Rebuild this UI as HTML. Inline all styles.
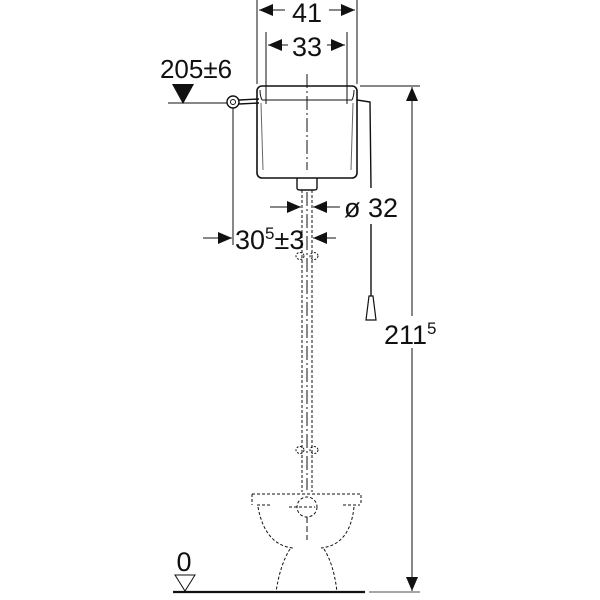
<!DOCTYPE html>
<html><head><style>body{margin:0;background:#fff}svg{display:block}text{font-family:"Liberation Sans",sans-serif;fill:#111}</style></head><body>
<svg width="600" height="600" viewBox="0 0 600 600" xmlns="http://www.w3.org/2000/svg">
<defs>
<marker id="a" viewBox="0 0 10 10" refX="10" refY="5" markerWidth="14" markerHeight="12" orient="auto-start-reverse" markerUnits="userSpaceOnUse" preserveAspectRatio="none"><path d="M0,0L10,5L0,10z" fill="#111"/></marker>
</defs>
<g stroke="#111" fill="none" stroke-width="1">
<line x1="257" y1="0" x2="257" y2="84"/><line x1="357" y1="0" x2="357" y2="84"/>
<line x1="259" y1="10" x2="285" y2="10" marker-start="url(#a)"/>
<line x1="329" y1="10" x2="355" y2="10" marker-end="url(#a)"/>
<line x1="266" y1="32" x2="266" y2="104"/><line x1="347" y1="32" x2="347" y2="104"/>
<line x1="268" y1="45" x2="288" y2="45" marker-start="url(#a)"/>
<line x1="327" y1="45" x2="345" y2="45" marker-end="url(#a)"/>
<rect x="257" y="86" width="100" height="92" rx="5" stroke-width="1.6"/>
<path d="M262 100 L352 100 M262 100 Q260 96 260 90 M352 100 Q354 96 354 90"/>
<path d="M261 103 L263 170 M353 103 L351 170" stroke="#666"/>
<line x1="307" y1="74" x2="307" y2="170" stroke-dasharray="14,3,2,3"/>
<path d="M297 178 L297 188 Q297 190 300 190 L314 190 Q317 190 317 188 L317 178" stroke-width="1.4"/>
<polygon points="172,84 194,84 183,104" fill="#111" stroke="none"/>
<line x1="168" y1="103" x2="227" y2="103"/>
<circle cx="233" cy="102" r="6" stroke-width="1.4"/><circle cx="233" cy="102" r="2.5"/>
<path d="M239 100 L259 99 M239 104 L259 103" stroke-width="1.4"/>
<line x1="233" y1="108" x2="233" y2="245"/>
<path d="M302 190 V492 M312 190 V492" stroke-dasharray="3,2"/>
<line x1="307" y1="192" x2="307" y2="490" stroke-dasharray="14,3,2,3"/>
<ellipse cx="300" cy="256" rx="4" ry="3.5" stroke-dasharray="2,1.5"/><ellipse cx="314" cy="256" rx="4" ry="3.5" stroke-dasharray="2,1.5"/>
<ellipse cx="300" cy="450" rx="4" ry="3.5" stroke-dasharray="2,1.5"/><ellipse cx="314" cy="450" rx="4" ry="3.5" stroke-dasharray="2,1.5"/>
<line x1="270" y1="207" x2="301" y2="207" marker-end="url(#a)"/>
<line x1="340" y1="207" x2="313" y2="207" marker-end="url(#a)"/>
<line x1="203" y1="238" x2="232" y2="238" marker-end="url(#a)"/>
<line x1="336" y1="238" x2="313" y2="238" marker-end="url(#a)"/>
<path d="M357 100 L370 102 L371 188 M371 224 L371 296" stroke-width="1.4"/>
<polygon points="369,296 373,296 376,320 366,320" stroke-width="1.2"/>
<line x1="360" y1="86" x2="420" y2="86"/>
<line x1="412" y1="316" x2="412" y2="87" marker-end="url(#a)"/>
<line x1="412" y1="348" x2="412" y2="591" marker-end="url(#a)"/>
<g stroke-dasharray="3,2">
<path d="M252 494 L361 494 L361 505 M252 494 L252 505"/>
<path d="M257 505 L270 505 M289 507 L315 507 M343 505 L360 505"/>
<circle cx="307" cy="507" r="10"/>
<path d="M258 507 Q265 545 293 548 M354 507 Q350 545 321 548"/>
<path d="M290 549 Q280 565 276 592 M324 549 Q334 565 337 592"/>
</g>
<line x1="307" y1="517" x2="307" y2="540" stroke-dasharray="6,3"/>
<line x1="173" y1="592" x2="365" y2="592" stroke-width="2.2"/>
<line x1="369" y1="592" x2="420" y2="592" stroke="#888" stroke-width="1.5"/>
<polygon points="175,575 195,575 185,591"/>
</g>
<text x="307" y="22" font-size="27" text-anchor="middle">41</text>
<text x="307" y="56" font-size="27" text-anchor="middle">33</text>
<text x="196" y="78" font-size="26" text-anchor="middle">205±6</text>
<text x="344" y="217" font-size="27">ø 32</text>
<text x="235" y="249" font-size="27">30<tspan font-size="17" dy="-10">5</tspan><tspan dy="10">±3</tspan></text>
<text x="384" y="344" font-size="27">211<tspan font-size="17" dy="-10">5</tspan></text>
<text x="184" y="571" font-size="27" text-anchor="middle">0</text>
</svg>
</body></html>
